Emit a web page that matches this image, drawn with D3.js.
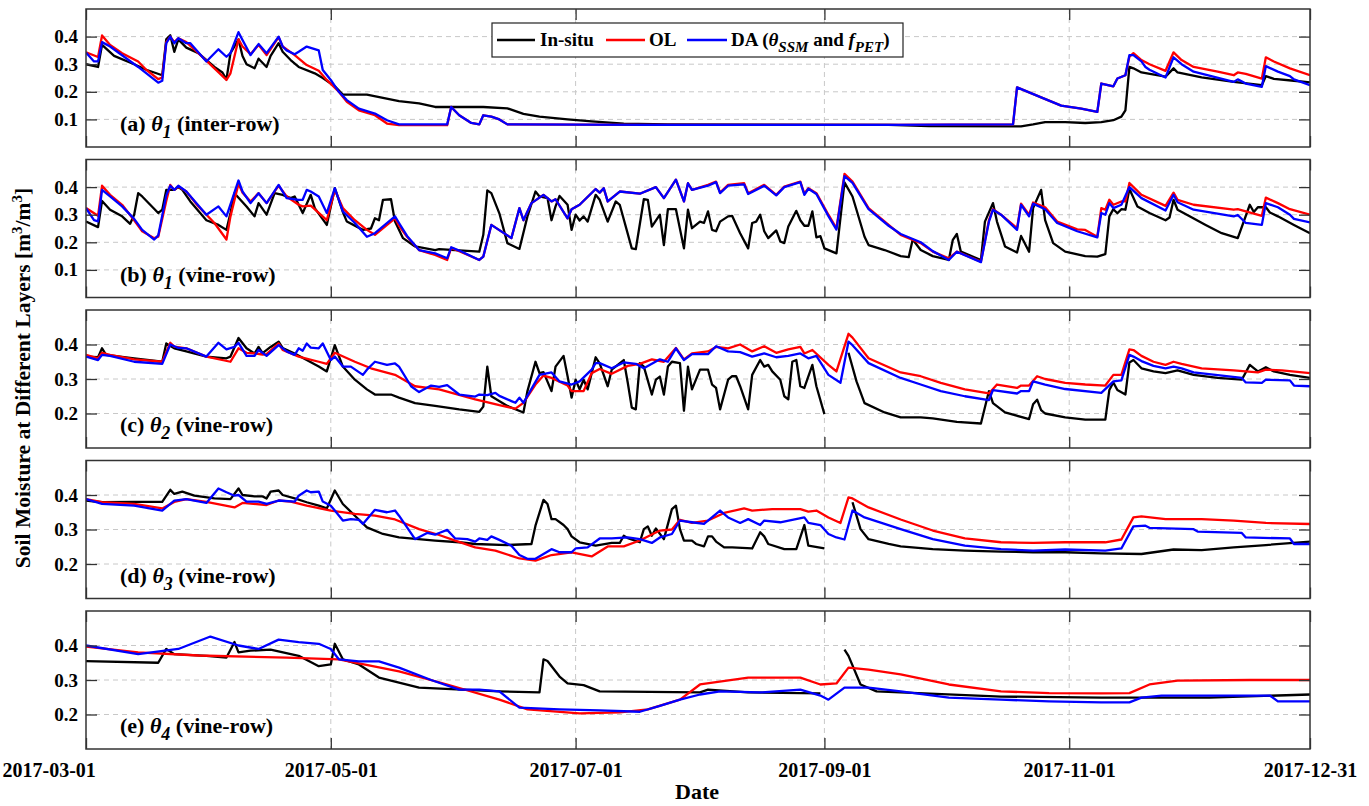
<!DOCTYPE html>
<html><head><meta charset="utf-8">
<script src="https://cdn.jsdelivr.net/npm/d3@7"></script>
<style>
body{margin:0;background:#fff}
svg{display:block}
text{font-family:"Liberation Serif","Times New Roman",serif;font-weight:bold;fill:#000}
</style>
</head><body>
<svg id="chart" width="1369" height="806"></svg>
<script>
// ---------------- DATA ----------------
// x values are days since START (daily series); y values are soil moisture [m3/m3]
const START = "2017-03-01";
const END = "2017-12-31";
const xTickLabels = ["2017-03-01","2017-05-01","2017-07-01","2017-09-01","2017-11-01","2017-12-31"];
const seriesNames = ["In-situ","OL","DA"];
const panelTags = ["(a)","(b)","(c)","(d)","(e)"];
const panelSubs = ["1","1","2","3","4"];
const panelRows = ["(inter-row)","(vine-row)","(vine-row)","(vine-row)","(vine-row)"];
const yTicksTop = [0.1,0.2,0.3,0.4];
const yTicksDeep = [0.2,0.3,0.4];

// (a) theta1 inter-row
const insituA = [[0,.30],[3,.29],[4,.37],[7,.33],[12,.30],[15,.28],[19,.26],[20,.39],[21,.405],[22,.345],[23,.39],[25,.36],[28,.34],[32,.29],[34,.27],[35,.245],[36,.34],[38,.39],[39,.33],[40,.30],[42,.285],[43,.32],[45,.29],[46,.33],[48,.376],[49,.345],[51,.315],[53,.29],[57,.267],[59,.25],[62,.22],[64,.19],[67,.19],[70,.19],[74,.178],[78,.166],[83,.158],[87,.145],[99,.145],[105,.14],[109,.12],[113,.11],[120,.10],[126,.093],[134,.085],[145,.082],[200,.08],[210,.076],[233,.075],[236,.082],[239,.09],[244,.09],[249,.087],[253,.09],[256,.097],[258,.11],[259,.133],[260,.29],[261,.285],[263,.27],[269,.255],[271,.285],[272,.27],[278,.252],[286,.236],[293,.224],[294,.257],[296,.247],[301,.24],[305,.234]];
const olA = [[0,.343],[3,.326],[4,.404],[6,.37],[9,.34],[13,.31],[15,.28],[18,.246],[19,.252],[20,.38],[21,.40],[22,.38],[23,.394],[25,.38],[28,.34],[32,.285],[35,.243],[36,.267],[38,.39],[39,.364],[41,.336],[43,.37],[45,.333],[48,.398],[49,.364],[52,.333],[55,.297],[58,.276],[60,.243],[63,.20],[65,.164],[68,.133],[72,.115],[75,.085],[78,.079],[90,.079],[91,.145],[93,.115],[96,.087],[98,.082],[99,.115],[101,.11],[103,.10],[105,.082],[140,.08],[200,.08],[231,.082],[232,.216],[238,.18],[243,.15],[248,.139],[252,.127],[253,.23],[256,.22],[257,.248],[259,.26],[260,.327],[261,.34],[263,.315],[265,.30],[269,.276],[271,.343],[273,.315],[276,.29],[282,.273],[286,.26],[287,.27],[289,.265],[293,.248],[294,.325],[296,.31],[300,.285],[305,.26]];
const daA = [[0,.342],[2,.31],[3,.31],[4,.38],[6,.364],[13,.29],[18,.233],[19,.24],[20,.376],[21,.40],[22,.376],[23,.394],[25,.376],[26,.376],[30,.31],[33,.354],[35,.327],[36,.34],[38,.416],[39,.388],[41,.333],[43,.373],[45,.34],[48,.40],[49,.364],[50,.35],[52,.336],[53,.345],[55,.364],[58,.35],[59,.279],[61,.243],[63,.20],[65,.17],[68,.139],[72,.121],[75,.097],[78,.082],[90,.082],[91,.145],[93,.115],[96,.087],[98,.082],[99,.115],[101,.11],[103,.10],[105,.082],[140,.08],[200,.08],[231,.082],[232,.216],[238,.18],[243,.15],[248,.139],[252,.127],[253,.23],[256,.22],[257,.248],[259,.26],[260,.333],[261,.333],[263,.31],[264,.29],[265,.28],[269,.252],[271,.325],[273,.30],[276,.273],[286,.236],[287,.245],[289,.23],[293,.218],[294,.293],[297,.273],[300,.257],[301,.245],[305,.224]];

// (b) theta1 vine-row
const insituB = [[0,.275],[3,.255],[4,.35],[6,.318],[9,.294],[11,.267],[12,.30],[13,.378],[14,.366],[18,.306],[19,.318],[20,.39],[22,.39],[23,.40],[24,.39],[26,.348],[30,.28],[33,.263],[35,.245],[36,.306],[37,.378],[40,.33],[42,.294],[43,.342],[45,.30],[47,.378],[49,.372],[51,.36],[52,.366],[54,.306],[56,.372],[57,.324],[60,.263],[62,.396],[64,.31],[65,.275],[69,.245],[71,.25],[72,.287],[73,.28],[74,.354],[76,.356],[77,.275],[79,.215],[82,.185],[87,.172],[88,.175],[98,.166],[99,.227],[100,.388],[101,.378],[103,.305],[105,.197],[108,.176],[110,.294],[112,.384],[113,.366],[115,.36],[116,.28],[117,.33],[118,.368],[120,.336],[121,.245],[122,.30],[123,.279],[124,.294],[125,.275],[127,.372],[128,.354],[130,.275],[132,.348],[133,.336],[136,.178],[137,.175],[139,.356],[140,.354],[141,.257],[143,.30],[144,.19],[145,.32],[147,.32],[149,.178],[150,.318],[151,.251],[153,.275],[154,.27],[155,.312],[156,.245],[157,.24],[158,.275],[160,.294],[161,.296],[163,.233],[165,.178],[166,.27],[167,.275],[168,.30],[169,.24],[170,.215],[172,.243],[173,.203],[174,.197],[175,.257],[177,.314],[178,.28],[179,.26],[180,.26],[181,.312],[182,.218],[183,.222],[184,.178],[187,.16],[189,.417],[191,.366],[194,.22],[195,.19],[199,.172],[203,.15],[205,.146],[206,.21],[208,.172],[211,.15],[215,.136],[216,.209],[217,.23],[218,.166],[223,.136],[224,.275],[226,.342],[227,.275],[229,.185],[232,.163],[233,.223],[235,.166],[236,.324],[238,.39],[239,.28],[241,.197],[244,.166],[249,.15],[252,.148],[254,.157],[255,.294],[256,.32],[257,.305],[258,.32],[259,.318],[260,.393],[262,.33],[265,.306],[269,.28],[270,.29],[271,.354],[272,.318],[275,.294],[279,.263],[283,.233],[287,.215],[290,.336],[291,.31],[292,.327],[294,.327],[295,.308],[297,.294],[301,.263],[305,.233]];
const olB = [[0,.324],[3,.296],[4,.405],[6,.372],[9,.336],[12,.28],[14,.24],[17,.215],[18,.22],[20,.35],[21,.408],[22,.39],[23,.402],[25,.384],[28,.33],[32,.27],[35,.21],[36,.294],[38,.412],[39,.38],[41,.348],[43,.378],[45,.342],[48,.405],[50,.366],[53,.336],[54,.33],[56,.333],[60,.28],[62,.39],[64,.324],[67,.28],[70,.245],[72,.227],[77,.287],[78,.26],[80,.22],[83,.172],[87,.154],[90,.136],[91,.18],[93,.168],[98,.136],[99,.148],[101,.263],[106,.215],[108,.324],[109,.28],[111,.342],[114,.372],[116,.348],[117,.356],[120,.287],[121,.32],[123,.336],[127,.393],[128,.38],[129,.396],[130,.348],[133,.384],[138,.376],[142,.40],[144,.36],[147,.427],[149,.348],[150,.414],[151,.39],[155,.408],[157,.42],[158,.38],[160,.408],[164,.414],[165,.378],[169,.408],[172,.372],[174,.402],[178,.42],[179,.376],[180,.396],[182,.378],[185,.30],[187,.251],[189,.448],[191,.42],[195,.324],[200,.263],[203,.227],[208,.197],[211,.166],[215,.142],[217,.166],[223,.13],[225,.28],[226,.32],[228,.30],[232,.251],[233,.34],[235,.30],[236,.344],[239,.327],[242,.275],[247,.247],[249,.245],[252,.22],[253,.324],[254,.318],[255,.354],[256,.336],[258,.348],[259,.348],[260,.415],[263,.372],[269,.332],[271,.38],[272,.354],[276,.336],[286,.318],[287,.32],[293,.296],[294,.362],[297,.342],[300,.32],[305,.30]];
const daB = [[0,.324],[2,.28],[3,.276],[4,.39],[6,.366],[9,.33],[12,.285],[14,.245],[17,.21],[18,.225],[20,.37],[21,.405],[22,.39],[23,.405],[25,.384],[30,.30],[33,.33],[35,.294],[38,.424],[39,.384],[41,.342],[43,.378],[45,.342],[48,.408],[50,.36],[53,.354],[54,.354],[55,.39],[56,.384],[58,.366],[60,.306],[62,.396],[64,.312],[67,.27],[70,.22],[72,.233],[77,.294],[78,.27],[80,.223],[83,.172],[87,.16],[90,.142],[91,.182],[93,.17],[98,.136],[99,.148],[101,.263],[106,.215],[108,.324],[109,.28],[111,.342],[114,.372],[116,.348],[117,.356],[120,.287],[121,.32],[123,.336],[127,.393],[128,.38],[129,.396],[130,.348],[133,.384],[138,.376],[142,.40],[144,.36],[147,.427],[149,.348],[150,.414],[151,.39],[155,.405],[157,.418],[158,.378],[160,.405],[164,.41],[165,.375],[169,.405],[172,.37],[174,.40],[178,.418],[179,.372],[180,.394],[182,.375],[185,.295],[187,.246],[189,.44],[191,.415],[195,.32],[200,.26],[203,.23],[208,.20],[211,.168],[215,.136],[217,.166],[223,.128],[225,.275],[226,.318],[228,.30],[232,.245],[233,.336],[235,.294],[236,.34],[239,.32],[242,.27],[247,.24],[252,.218],[253,.306],[254,.30],[255,.342],[256,.324],[258,.336],[260,.40],[263,.36],[269,.315],[271,.372],[272,.345],[276,.318],[286,.294],[287,.299],[289,.27],[293,.263],[294,.342],[297,.327],[300,.30],[301,.285],[305,.272]];

// (c) theta2 vine-row
const insituC = [[0,.365],[3,.363],[4,.389],[5,.37],[12,.36],[19,.35],[20,.403],[22,.389],[25,.38],[30,.365],[35,.36],[36,.365],[38,.419],[40,.389],[42,.374],[43,.393],[44,.375],[46,.393],[48,.408],[49,.39],[52,.374],[55,.355],[58,.336],[60,.322],[62,.398],[64,.336],[67,.298],[70,.27],[72,.255],[76,.255],[78,.246],[82,.23],[87,.222],[93,.212],[98,.205],[99,.22],[100,.336],[101,.25],[105,.222],[109,.203],[110,.265],[112,.35],[113,.317],[114,.32],[116,.265],[117,.336],[119,.367],[120,.308],[121,.246],[122,.298],[123,.27],[124,.298],[125,.27],[127,.363],[128,.345],[130,.279],[131,.327],[134,.355],[135,.289],[136,.217],[137,.212],[138,.346],[139,.336],[141,.255],[142,.298],[143,.307],[144,.255],[145,.336],[146,.35],[148,.346],[149,.208],[150,.336],[151,.27],[153,.327],[155,.327],[156,.284],[157,.274],[158,.212],[160,.298],[161,.308],[162,.308],[163,.279],[165,.212],[166,.312],[168,.355],[169,.336],[170,.341],[171,.322],[173,.298],[174,.25],[175,.241],[176,.35],[177,.355],[178,.279],[179,.274],[181,.341],[182,.279],[184,.198],[185,null],[190,.376],[192,.293],[194,.23],[199,.203],[203,.189],[208,.189],[211,.186],[217,.176],[223,.171],[225,.265],[226,.23],[229,.203],[235,.184],[236,.227],[237,.24],[238,.21],[239,.20],[244,.189],[249,.182],[254,.182],[255,.268],[256,.29],[257,.268],[259,.255],[260,.348],[261,.355],[263,.331],[266,.322],[269,.317],[272,.325],[276,.312],[282,.303],[288,.298],[290,.341],[292,.322],[294,.334],[296,.322],[300,.312],[305,.303]];
const olC = [[0,.37],[3,.36],[4,.376],[6,.37],[12,.357],[19,.35],[21,.405],[22,.394],[25,.389],[30,.365],[36,.35],[38,.389],[40,.376],[42,.374],[44,.371],[45,.372],[48,.403],[49,.384],[53,.365],[58,.35],[60,.344],[62,.376],[67,.35],[71,.331],[77,.312],[82,.279],[88,.27],[97,.241],[103,.224],[107,.214],[109,.231],[112,.284],[114,.31],[116,.303],[120,.281],[121,.265],[124,.265],[126,.317],[128,.329],[131,.315],[135,.338],[138,.344],[141,.357],[144,.35],[147,.39],[149,.357],[151,.374],[155,.38],[157,.393],[160,.389],[163,.40],[166,.38],[169,.395],[172,.376],[175,.386],[178,.393],[179,.374],[181,.384],[185,.341],[187,.322],[190,.431],[191,.42],[195,.36],[203,.319],[208,.308],[213,.289],[219,.27],[225,.258],[227,.284],[232,.274],[233,.281],[235,.281],[237,.308],[239,.30],[244,.289],[249,.284],[254,.281],[256,.312],[258,.312],[260,.386],[261,.384],[263,.367],[266,.35],[269,.341],[271,.35],[273,.344],[278,.331],[286,.325],[292,.319],[294,.327],[298,.325],[305,.317]];
const daC = [[0,.365],[3,.355],[4,.37],[6,.367],[12,.35],[19,.344],[21,.40],[23,.39],[25,.389],[30,.365],[33,.405],[35,.386],[37,.393],[38,.405],[40,.367],[42,.367],[43,.384],[45,.367],[48,.398],[50,.38],[52,.37],[53,.389],[54,.382],[55,.403],[56,.391],[58,.389],[59,.403],[61,.355],[62,.365],[64,.336],[66,.336],[69,.312],[70,.327],[72,.35],[75,.341],[77,.345],[78,.336],[81,.279],[83,.262],[86,.281],[88,.277],[90,.282],[93,.255],[97,.249],[98,.255],[100,.253],[102,.26],[103,.251],[106,.236],[107,.231],[108,.246],[109,.231],[113,.312],[116,.319],[118,.293],[121,.284],[123,.293],[126,.327],[127,.346],[128,.346],[131,.331],[134,.348],[137,.344],[139,.331],[143,.357],[145,.35],[147,.389],[149,.355],[151,.372],[155,.372],[157,.395],[160,.38],[163,.378],[166,.365],[169,.374],[172,.363],[175,.367],[178,.374],[180,.36],[182,.367],[185,.312],[188,.289],[190,.408],[191,.398],[195,.346],[203,.303],[208,.284],[213,.265],[219,.25],[225,.239],[226,.268],[232,.258],[233,.265],[235,.265],[236,.293],[239,.284],[244,.271],[253,.26],[256,.293],[258,.296],[260,.37],[261,.365],[263,.352],[266,.338],[269,.331],[271,.336],[273,.331],[276,.319],[288,.303],[289,.29],[293,.289],[294,.298],[300,.296],[301,.281],[305,.279]];

// (d) theta3 vine-row
const insituD = [[0,.384],[4,.379],[12,.38],[19,.38],[21,.415],[22,.403],[24,.41],[27,.398],[32,.39],[36,.388],[38,.419],[39,.40],[42,.396],[44,.396],[45,.39],[46,.41],[48,.413],[49,.40],[52,.39],[55,.379],[58,.369],[60,.361],[62,.413],[64,.374],[67,.34],[70,.306],[74,.287],[78,.277],[87,.268],[93,.263],[97,.258],[105,.255],[111,.258],[112,.311],[114,.386],[115,.374],[116,.33],[117,.33],[119,.313],[120,.301],[121,.28],[123,.263],[127,.253],[131,.261],[133,.261],[134,.282],[135,.275],[138,.263],[139,.301],[140,.309],[141,.282],[142,.303],[144,.272],[146,.359],[147,.369],[148,.301],[149,.268],[151,.268],[152,.258],[154,.251],[155,.28],[156,.28],[157,.265],[159,.248],[161,.248],[166,.245],[168,.292],[169,.28],[170,.258],[174,.243],[177,.243],[179,.313],[180,.253],[184,.245],[185,null],[191,.379],[193,.301],[195,.272],[200,.258],[203,.251],[211,.243],[219,.239],[228,.236],[236,.234],[244,.234],[253,.231],[263,.229],[271,.242],[278,.24],[286,.248],[294,.255],[305,.265]];
const olD = [[0,.388],[4,.379],[12,.374],[19,.361],[22,.38],[25,.388],[30,.38],[37,.364],[39,.377],[45,.371],[48,.384],[51,.381],[55,.369],[61,.355],[67,.345],[72,.34],[77,.329],[83,.301],[88,.284],[92,.268],[97,.248],[102,.239],[108,.216],[112,.21],[116,.226],[121,.234],[126,.222],[130,.251],[134,.251],[138,.268],[143,.297],[146,.30],[148,.328],[151,.319],[155,.326],[159,.348],[164,.361],[166,.355],[171,.359],[178,.359],[180,.352],[182,.355],[185,.335],[188,.319],[190,.393],[191,.39],[195,.364],[203,.329],[211,.297],[219,.274],[228,.263],[236,.261],[244,.263],[254,.263],[258,.271],[261,.335],[263,.338],[269,.33],[278,.33],[286,.326],[294,.319],[305,.316]];
const daD = [[0,.388],[4,.374],[12,.369],[19,.355],[22,.384],[25,.388],[30,.377],[33,.419],[35,.408],[37,.398],[38,.40],[40,.381],[43,.381],[45,.374],[48,.384],[52,.381],[53,.398],[55,.413],[56,.408],[58,.41],[59,.381],[61,.369],[62,.355],[64,.326],[66,.33],[68,.328],[69,.316],[72,.357],[75,.35],[77,.355],[78,.34],[82,.272],[85,.29],[87,.285],[88,.29],[90,.299],[92,.274],[95,.272],[97,.265],[98,.274],[100,.27],[101,.28],[103,.27],[106,.253],[108,.226],[110,.215],[112,.215],[116,.243],[118,.234],[121,.234],[122,.245],[125,.248],[128,.274],[131,.274],[135,.277],[138,.272],[141,.261],[143,.277],[146,.287],[148,.326],[151,.321],[154,.316],[158,.355],[160,.335],[163,.319],[165,.33],[168,.313],[169,.326],[173,.321],[176,.328],[179,.335],[180,.319],[183,.313],[185,.287],[187,.277],[189,.271],[191,.355],[194,.335],[203,.301],[211,.272],[219,.253],[228,.243],[236,.239],[244,.242],[254,.239],[258,.245],[261,.309],[264,.311],[265,.305],[276,.301],[277,.294],[288,.29],[289,.277],[300,.274],[301,.258],[305,.258]];

// (e) theta4 vine-row
const insituE = [[0,.355],[18,.35],[20,.39],[22,.375],[30,.37],[35,.365],[37,.41],[38,.38],[41,.385],[46,.388],[53,.37],[58,.34],[61,.345],[62,.405],[64,.36],[68,.345],[73,.307],[83,.278],[103,.267],[113,.264],[114,.36],[115,.355],[118,.31],[120,.29],[124,.285],[128,.267],[153,.264],[155,.272],[165,.264],[183,.261],[184,null],[189,.388],[190,.37],[193,.287],[197,.267],[228,.252],[253,.249],[280,.249],[305,.258]];
const olE = [[0,.397],[13,.38],[28,.371],[50,.365],[63,.36],[78,.325],[90,.287],[103,.243],[110,.215],[123,.203],[133,.206],[140,.215],[148,.243],[153,.287],[165,.307],[178,.307],[183,.287],[187,.29],[190,.336],[195,.33],[203,.316],[215,.287],[228,.267],[240,.262],[253,.261],[260,.262],[265,.287],[272,.298],[290,.30],[305,.30]];
const daE = [[0,.40],[13,.375],[23,.39],[31,.426],[38,.40],[43,.39],[48,.417],[53,.41],[58,.405],[61,.39],[63,.36],[68,.354],[73,.354],[78,.336],[86,.30],[93,.272],[98,.272],[103,.267],[108,.22],[118,.215],[128,.212],[138,.208],[143,.225],[148,.243],[153,.258],[158,.267],[168,.264],[178,.272],[183,.255],[185,.243],[189,.278],[195,.278],[203,.267],[215,.249],[228,.243],[240,.238],[253,.235],[260,.235],[263,.249],[268,.255],[280,.255],[295,.255],[297,.238],[305,.238]];

// ---------------- CHART ----------------
const svg = d3.select("#chart");
const parse = d3.timeParse("%Y-%m-%d");
const t0 = parse(START);
const dayToDate = d => d3.timeDay.offset(t0, d);
const x = d3.scaleTime().domain([t0, parse(END)]).range([86, 1310]);

const panels = [
  {series:[insituA, olA, daA], domain:[0,0.5], ticks:yTicksTop},
  {series:[insituB, olB, daB], domain:[0,0.5], ticks:yTicksTop},
  {series:[insituC, olC, daC], domain:[0.1,0.5], ticks:yTicksDeep},
  {series:[insituD, olD, daD], domain:[0.1,0.5], ticks:yTicksDeep},
  {series:[insituE, olE, daE], domain:[0.1,0.5], ticks:yTicksDeep}
];
const tops = [9, 159.5, 310, 460.5, 611];
const PH = 138;
const colors = ["#000000", "#ff0000", "#0000ff"];
const tickDates = xTickLabels.map(parse);
const frameColor = "#333";
const FONT = '"Liberation Serif","Times New Roman",serif';

const defs = svg.append("defs");

panels.forEach((p, i) => {
  const top = tops[i];
  const y = d3.scaleLinear().domain(p.domain).range([top + PH, top]);
  const g = svg.append("g");

  // grid
  g.selectAll("line.hg").data(p.ticks).join("line")
    .attr("x1", 86).attr("x2", 1310).attr("y1", d => y(d)).attr("y2", d => y(d))
    .attr("stroke", "#c8c8c8").attr("stroke-width", 1).attr("stroke-dasharray", "5,4");
  g.selectAll("line.vg").data(tickDates.slice(1, -1)).join("line")
    .attr("x1", d => x(d)).attr("x2", d => x(d)).attr("y1", top).attr("y2", top + PH)
    .attr("stroke", "#c8c8c8").attr("stroke-width", 1).attr("stroke-dasharray", "5,4");

  // clip
  defs.append("clipPath").attr("id", "clip" + i).append("rect")
    .attr("x", 86).attr("y", top).attr("width", 1224).attr("height", PH);

  // lines
  const line = d3.line()
    .defined(d => d[1] != null)
    .x(d => x(dayToDate(d[0])))
    .y(d => y(d[1]));
  const lg = g.append("g").attr("clip-path", `url(#clip${i})`);
  p.series.forEach((s, k) => {
    lg.append("path").datum(s)
      .attr("fill", "none").attr("stroke", colors[k]).attr("stroke-width", 2.3)
      .attr("stroke-linejoin", "round").attr("d", line);
  });

  // axes (inward ticks on all sides)
  const yl = g.append("g").attr("transform", "translate(86,0)")
    .call(d3.axisLeft(y).tickValues(p.ticks).tickSize(-11).tickPadding(8).tickFormat(d3.format(".1f")));
  const yr = g.append("g").attr("transform", "translate(1310,0)")
    .call(d3.axisRight(y).tickValues(p.ticks).tickSize(-11).tickFormat(""));
  const xt = g.append("g").attr("transform", `translate(0,${top})`)
    .call(d3.axisTop(x).tickValues(tickDates).tickSize(-11).tickFormat(""));
  const xb = g.append("g").attr("transform", `translate(0,${top + PH})`)
    .call(d3.axisBottom(x).tickValues(tickDates).tickSize(-11).tickPadding(14)
      .tickFormat(i === 4 ? ((d, j) => xTickLabels[j]) : ""));
  [yl, yr, xt, xb].forEach(a => {
    a.attr("font-family", null);
    a.select(".domain").remove();
    a.selectAll(".tick line").attr("stroke", frameColor).attr("stroke-width", 1.3);
    a.selectAll("text").style("font-size", "19px").style("font-family", FONT).style("font-weight", "bold").attr("fill", "#000");
  });
  if (i === 4) {
    xb.selectAll("text").style("font-size", "20px");
    xb.selectAll(".tick").filter((d, j) => j === 0).select("text").attr("text-anchor", "start").attr("x", -84);
  }

  // frame
  g.append("rect").attr("x", 86).attr("y", top).attr("width", 1224).attr("height", PH)
    .attr("fill", "none").attr("stroke", frameColor).attr("stroke-width", 1.5);

  // panel label
  const t = g.append("text").attr("x", 120).attr("y", top + 122).style("font-size", "22px");
  t.append("tspan").text(panelTags[i] + " ");
  t.append("tspan").attr("font-style", "italic").text("θ");
  t.append("tspan").attr("font-style", "italic").attr("dy", 7).style("font-size", "18px").text(panelSubs[i]);
  t.append("tspan").attr("dy", -7).text(" " + panelRows[i]);
});

// legend
const leg = svg.append("g");
leg.append("rect").attr("x", 492).attr("y", 23).attr("width", 411).attr("height", 34)
  .attr("fill", "#fff").attr("stroke", "#222").attr("stroke-width", 1.2);
const legItems = [
  {x1: 497, x2: 535, tx: 540},
  {x1: 606, x2: 645, tx: 649},
  {x1: 687, x2: 727, tx: 731}
];
legItems.forEach((it, k) => {
  leg.append("line").attr("x1", it.x1).attr("x2", it.x2).attr("y1", 40).attr("y2", 40)
    .attr("stroke", colors[k]).attr("stroke-width", 2.3);
});
leg.append("text").attr("x", legItems[0].tx).attr("y", 46).style("font-size", "19px").text(seriesNames[0]);
leg.append("text").attr("x", legItems[1].tx).attr("y", 46).style("font-size", "19px").text(seriesNames[1]);
const dat = leg.append("text").attr("x", legItems[2].tx).attr("y", 46).style("font-size", "19px");
dat.append("tspan").text(seriesNames[2] + " (");
dat.append("tspan").attr("font-style", "italic").text("θ");
dat.append("tspan").attr("font-style", "italic").attr("dy", 6).style("font-size", "15px").text("SSM");
dat.append("tspan").attr("dy", -6).text(" and ");
dat.append("tspan").attr("font-style", "italic").text("f");
dat.append("tspan").attr("font-style", "italic").attr("dy", 6).style("font-size", "15px").text("PET");
dat.append("tspan").attr("dy", -6).text(")");

// axis titles
const yt = svg.append("text").attr("transform", "translate(30,378) rotate(-90)")
  .attr("text-anchor", "middle").style("font-size", "21.5px");
yt.append("tspan").text("Soil Moisture at Different Layers [m");
yt.append("tspan").attr("dy", -8).style("font-size", "15px").text("3");
yt.append("tspan").attr("dy", 8).text("/m");
yt.append("tspan").attr("dy", -8).style("font-size", "15px").text("3");
yt.append("tspan").attr("dy", 8).text("]");

svg.append("text").attr("x", 697).attr("y", 799).attr("text-anchor", "middle")
  .style("font-size", "22px").text("Date");
</script>
</body></html>
